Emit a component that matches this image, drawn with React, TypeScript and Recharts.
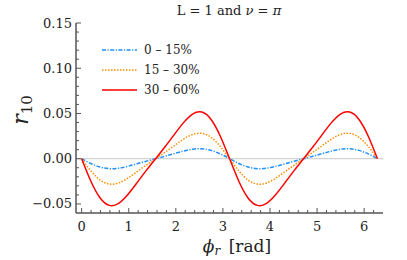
import { LineChart, Line, XAxis, YAxis, ReferenceLine } from 'recharts';

const phi = [
  0, 0.196, 0.393, 0.589, 0.785, 0.982, 1.178, 1.374, 1.571, 1.767, 1.963, 2.16, 2.356, 2.553, 2.749, 2.945,
  3.142, 3.338, 3.534, 3.731, 3.927, 4.123, 4.32, 4.516, 4.712, 4.909, 5.105, 5.301, 5.498, 5.694, 5.89, 6.087,
  6.283,
];
const central = [
  0, -0.0053, -0.0092, -0.011, -0.0105, -0.0084, -0.0056, -0.0027, 0, 0.0027, 0.0056, 0.0084, 0.0105, 0.011,
  0.0092, 0.0053, 0, -0.0053, -0.0092, -0.011, -0.0105, -0.0084, -0.0056, -0.0027, 0, 0.0027, 0.0056, 0.0084,
  0.0105, 0.011, 0.0092, 0.0053, 0,
];
const midCentral = [
  0, -0.0135, -0.0236, -0.028, -0.0268, -0.0215, -0.0143, -0.007, 0, 0.007, 0.0143, 0.0215, 0.0268, 0.028,
  0.0236, 0.0135, 0, -0.0135, -0.0236, -0.028, -0.0268, -0.0215, -0.0143, -0.007, 0, 0.007, 0.0143, 0.0215,
  0.0268, 0.028, 0.0236, 0.0135, 0,
];
const peripheral = [
  0, -0.0249, -0.0434, -0.0516, -0.0494, -0.0396, -0.0264, -0.0129, 0, 0.0129, 0.0264, 0.0396, 0.0494, 0.0516,
  0.0434, 0.0249, 0, -0.0249, -0.0434, -0.0516, -0.0494, -0.0396, -0.0264, -0.0129, 0, 0.0129, 0.0264, 0.0396,
  0.0494, 0.0516, 0.0434, 0.0249, 0,
];

const xTicks = [
  0, 0.2, 0.4, 0.6, 0.8, 1, 1.2, 1.4, 1.6, 1.8, 2, 2.2, 2.4, 2.6, 2.8, 3, 3.2, 3.4, 3.6, 3.8, 4, 4.2, 4.4, 4.6,
  4.8, 5, 5.2, 5.4, 5.6, 5.8, 6, 6.2,
];
const yTicks = [
  -0.05, -0.04, -0.03, -0.02, -0.01, 0, 0.01, 0.02, 0.03, 0.04, 0.05, 0.06, 0.07, 0.08, 0.09, 0.1, 0.11, 0.12,
  0.13, 0.14, 0.15,
];

const series = [
  { key: 'c1', name: '0 – 15%', color: '#1e90ff', dash: '4 1.5 1.2 1.5' },
  { key: 'c2', name: '15 – 30%', color: '#ff8c00', dash: '1.5 1.5' },
  { key: 'c3', name: '30 – 60%', color: '#ff0000', dash: undefined },
];

const data = phi.map((x, i) => ({ x, c1: central[i], c2: midCentral[i], c3: peripheral[i] }));

const FONT = 'DejaVu Serif';
const FRAME = '#555';

const isMajorX = (v: number) => Math.abs(v - Math.round(v)) < 1e-6;
const isMajorY = (v: number) => Math.abs(v * 20 - Math.round(v * 20)) < 1e-6;
const fmtY = (v: number) => (v < 0 ? '\u2212' + Math.abs(v).toFixed(2) : v.toFixed(2));

const BottomTick = (props: any) => {
  const { x, y, payload } = props;
  const major = isMajorX(payload.value);
  return (
    <g>
      <line x1={x} x2={x} y1={y} y2={y - (major ? 5 : 3)} stroke={FRAME} />
      {major && (
        <text x={x} y={y + 18} textAnchor="middle" fontFamily={FONT} fontSize={13} fill="#222">
          {Math.round(payload.value)}
        </text>
      )}
    </g>
  );
};

const TopTick = (props: any) => {
  const { x, y, payload } = props;
  const major = isMajorX(payload.value);
  return <line x1={x} x2={x} y1={y} y2={y + (major ? 5 : 3)} stroke={FRAME} />;
};

const LeftTick = (props: any) => {
  const { x, y, payload } = props;
  const major = isMajorY(payload.value);
  return (
    <g>
      <line x1={x} x2={x + (major ? 5 : 3)} y1={y} y2={y} stroke={FRAME} />
      {major && (
        <text x={x - 4} y={y + 4.5} textAnchor="end" fontFamily={FONT} fontSize={13} fill="#222">
          {fmtY(payload.value)}
        </text>
      )}
    </g>
  );
};

const RightTick = (props: any) => {
  const { x, y, payload } = props;
  const major = isMajorY(payload.value);
  return <line x1={x} x2={x - (major ? 5 : 3)} y1={y} y2={y} stroke={FRAME} />;
};

export default function App() {
  return (
    <div style={{ position: 'absolute', left: 0, top: 0, width: 407, height: 260 }}>
      <LineChart width={407} height={260} data={data} margin={{ top: 23, right: 24, bottom: 17, left: 0 }}>
        <XAxis
          dataKey="x"
          type="number"
          domain={[-0.12, 6.4]}
          ticks={xTicks}
          interval={0}
          allowDataOverflow
          height={30}
          tickSize={0}
          tickMargin={0}
          tickLine={false}
          axisLine={{ stroke: FRAME, strokeWidth: 1.5 }}
          tick={<BottomTick />}
        />
        <XAxis
          xAxisId="top"
          orientation="top"
          type="number"
          dataKey="x"
          domain={[-0.12, 6.4]}
          ticks={xTicks}
          interval={0}
          allowDataOverflow
          height={0}
          tickSize={0}
          tickMargin={0}
          tickLine={false}
          axisLine={{ stroke: FRAME, strokeWidth: 1.5 }}
          tick={<TopTick />}
        />
        <YAxis
          type="number"
          domain={[-0.06, 0.15]}
          ticks={yTicks}
          interval={0}
          allowDataOverflow
          width={76}
          tickSize={0}
          tickMargin={0}
          tickLine={false}
          axisLine={{ stroke: FRAME, strokeWidth: 1.5 }}
          tick={<LeftTick />}
        />
        <YAxis
          yAxisId="right"
          orientation="right"
          type="number"
          domain={[-0.06, 0.15]}
          ticks={yTicks}
          interval={0}
          allowDataOverflow
          width={0}
          tickSize={0}
          tickMargin={0}
          tickLine={false}
          axisLine={{ stroke: FRAME, strokeWidth: 1.5 }}
          tick={<RightTick />}
        />
        <ReferenceLine y={0} stroke="#c8c8c8" strokeWidth={1} />
        {series.map((s) => (
          <Line
            key={s.key}
            dataKey={s.key}
            name={s.name}
            type="natural"
            stroke={s.color}
            strokeWidth={1.5}
            strokeDasharray={s.dash}
            dot={false}
            activeDot={false}
            isAnimationActive={false}
          />
        ))}
      </LineChart>
      <svg width={407} height={260} style={{ position: 'absolute', left: 0, top: 0, pointerEvents: 'none' }}>
        <text x={229} y={15} textAnchor="middle" fontFamily={FONT} fontSize={13} fill="#222">
          L = 1 and <tspan fontStyle="italic">ν</tspan> = <tspan fontStyle="italic">π</tspan>
        </text>
        {series.map((s, i) => (
          <g key={s.key}>
            <line x1={102} x2={137} y1={50 + i * 20} y2={50 + i * 20} stroke={s.color} strokeWidth={1.5} strokeDasharray={s.dash} />
            <text x={144} y={54 + i * 20} fontFamily={FONT} fontSize={12} fill="#222">
              {s.name}
            </text>
          </g>
        ))}
        <text x={237} y={252} textAnchor="middle" fontFamily={FONT} fontSize={17} fill="#222">
          <tspan fontStyle="italic">ϕ</tspan>
          <tspan fontStyle="italic" fontSize={12} dy={3}>r</tspan>
          <tspan dy={-3}>{'\u2002'}[rad]</tspan>
        </text>
        <text x={28} y={110} textAnchor="middle" fontFamily={FONT} fontSize={22} fill="#222" transform="rotate(-90 28 110)">
          <tspan fontStyle="italic">r</tspan>
          <tspan fontSize={15} dy={4}>10</tspan>
        </text>
      </svg>
    </div>
  );
}
